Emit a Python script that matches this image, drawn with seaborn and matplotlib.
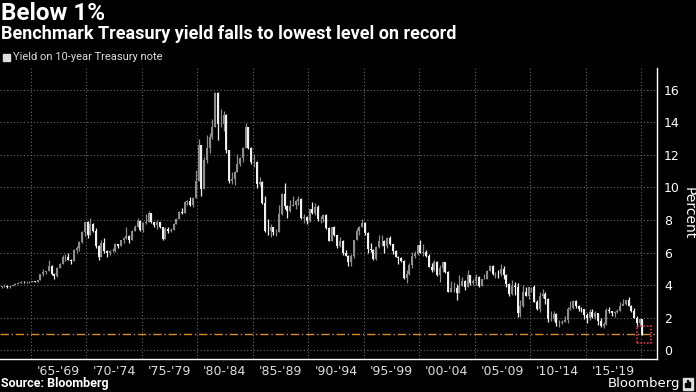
import numpy as np
import pandas as pd
import matplotlib
matplotlib.use("Agg")
import matplotlib.pyplot as plt
import seaborn as sns
from matplotlib.patches import Rectangle

# quarterly 10-year Treasury yield, 1962Q1 .. 2020Q1
first_open = 4.06
close_q = [
    3.87, 3.94, 3.95, 3.85,  # 1962
    3.94, 4.00, 4.08, 4.14,
    4.20, 4.16, 4.20, 4.20,
    4.22, 4.20, 4.30, 4.65,
    4.80, 4.86, 5.15, 4.65,
    4.55, 5.05, 5.30, 5.75,
    5.75, 5.55, 5.45, 6.15,
    6.25, 6.65, 7.25, 7.85,
    7.05, 7.75, 7.35, 6.40,  # 1970
    5.70, 6.60, 6.10, 5.95,
    6.10, 6.10, 6.50, 6.40,
    6.75, 6.90, 7.00, 6.80,
    7.35, 7.60, 7.95, 7.40,
    7.80, 7.90, 8.45, 7.85,
    7.70, 7.85, 7.55, 6.85,
    7.45, 7.30, 7.40, 7.75,
    8.05, 8.50, 8.45, 9.10,
    9.15, 8.90, 9.35, 10.40,
    12.60, 9.90, 11.70, 12.45,  # 1980
    13.10, 13.75, 15.80, 13.90,
    13.90, 14.45, 12.30, 10.40,
    10.55, 10.95, 11.45, 11.80,
    12.45, 13.70, 12.40, 11.55,
    11.55, 10.20, 10.35, 9.05,
    7.35, 7.30, 7.60, 7.25,
    7.25, 8.40, 9.60, 8.85,
    8.55, 8.85, 8.95, 9.15,
    9.30, 8.10, 8.20, 7.95,
    8.65, 8.45, 8.80, 8.05,  # 1990
    8.05, 8.30, 7.50, 6.70,
    7.55, 7.10, 6.40, 6.70,
    6.00, 5.80, 5.40, 5.80,
    6.75, 7.30, 7.60, 7.80,
    7.20, 6.20, 6.15, 5.60,
    6.35, 6.70, 6.70, 6.40,
    6.90, 6.50, 6.10, 5.75,
    5.65, 5.45, 4.45, 4.65,
    5.25, 5.80, 5.90, 6.45,
    6.00, 6.05, 5.80, 5.10,  # 2000
    4.90, 5.40, 4.60, 5.05,
    5.40, 4.80, 3.60, 3.80,
    3.80, 3.50, 3.95, 4.25,
    3.85, 4.60, 4.15, 4.25,
    4.50, 3.95, 4.35, 4.40,
    4.85, 5.15, 4.65, 4.70,
    4.65, 5.00, 4.60, 4.05,
    3.45, 3.95, 3.85, 2.25,
    2.70, 3.55, 3.30, 3.85,
    3.85, 2.95, 2.50, 3.30,  # 2010
    3.45, 3.15, 1.90, 1.90,
    2.20, 1.65, 1.65, 1.75,
    1.85, 2.50, 2.60, 3.00,
    2.70, 2.55, 2.50, 2.15,
    1.95, 2.35, 2.05, 2.30,
    1.78, 1.47, 1.60, 2.45,
    2.40, 2.30, 2.33, 2.40,
    2.74, 2.86, 3.06, 2.69,
    2.41, 2.00, 1.67, 1.92,
    0.93,  # 2020
]
high_q = [
    4.11, 3.95, 4.05, 3.98,
    3.95, 4.01, 4.10, 4.16,
    4.24, 4.24, 4.22, 4.23,
    4.24, 4.24, 4.32, 4.66,
    4.98, 4.88, 5.52, 5.25,
    4.75, 5.10, 5.35, 5.85,
    5.90, 5.95, 5.60, 6.20,
    6.40, 6.70, 7.30, 7.90,
    7.95, 8.10, 7.80, 7.50,
    6.45, 6.75, 6.90, 6.15,
    6.15, 6.30, 6.60, 6.55,
    6.80, 6.95, 7.55, 7.05,
    7.40, 7.70, 8.15, 8.00,
    7.85, 8.35, 8.55, 8.45,
    7.90, 8.00, 7.90, 7.55,
    7.55, 7.55, 7.50, 7.80,
    8.10, 8.55, 8.75, 9.15,
    9.25, 9.40, 9.40, 11.05,
    13.00, 12.60, 11.90, 13.25,
    13.35, 14.20, 15.85, 15.85,
    14.80, 14.70, 14.50, 12.30,
    10.95, 11.00, 12.05, 11.90,
    12.50, 13.95, 13.75, 12.50,
    12.05, 11.60, 10.65, 10.40,
    9.45, 8.05, 7.75, 7.60,
    7.45, 8.90, 9.65, 10.25,
    8.95, 9.25, 9.45, 9.20,
    9.50, 9.35, 8.40, 8.25,
    8.70, 9.10, 9.05, 8.95,
    8.25, 8.35, 8.40, 7.60,
    7.60, 7.65, 7.10, 6.95,
    6.75, 6.15, 5.85, 5.90,
    6.80, 7.50, 7.65, 8.05,
    7.90, 7.25, 6.60, 6.20,
    6.40, 7.05, 7.05, 6.75,
    6.95, 7.00, 6.55, 6.15,
    5.80, 5.75, 5.55, 4.95,
    5.35, 6.05, 6.10, 6.45,
    6.80, 6.55, 6.15, 5.90,
    5.35, 5.55, 5.50, 5.25,
    5.45, 5.40, 4.85, 4.25,
    4.20, 4.05, 4.60, 4.50,
    4.30, 4.90, 4.60, 4.40,
    4.65, 4.55, 4.40, 4.65,
    4.90, 5.25, 5.25, 4.80,
    4.90, 5.30, 5.20, 4.70,
    4.10, 4.30, 4.20, 4.10,
    3.05, 4.00, 3.90, 3.85,
    3.90, 4.00, 3.05, 3.55,
    3.75, 3.60, 3.20, 2.40,
    2.40, 2.30, 1.85, 1.85,
    2.10, 2.65, 3.00, 3.05,
    3.05, 2.80, 2.65, 2.45,
    2.25, 2.50, 2.50, 2.40,
    2.30, 1.95, 1.75, 2.60,
    2.62, 2.40, 2.40, 2.50,
    2.95, 3.11, 3.10, 3.25,
    2.80, 2.60, 2.10, 1.97,
    1.93,
]
low_q = [
    3.85, 3.79, 3.90, 3.83,
    3.80, 3.91, 3.98, 4.07,
    4.13, 4.14, 4.15, 4.14,
    4.17, 4.17, 4.19, 4.30,
    4.58, 4.68, 4.86, 4.62,
    4.40, 4.50, 5.05, 5.28,
    5.45, 5.55, 5.30, 5.45,
    5.95, 6.10, 6.60, 7.00,
    6.90, 7.05, 7.25, 6.30,
    5.55, 5.70, 6.00, 5.70,
    5.85, 6.05, 6.05, 6.25,
    6.40, 6.60, 6.85, 6.60,
    6.75, 7.30, 7.55, 7.35,
    7.25, 7.75, 7.90, 7.80,
    7.60, 7.45, 7.50, 6.80,
    6.85, 7.20, 7.25, 7.40,
    7.75, 8.05, 8.35, 8.45,
    8.95, 8.85, 8.80, 9.35,
    10.40, 9.50, 9.90, 11.50,
    12.10, 13.00, 13.70, 12.90,
    13.75, 13.50, 12.10, 10.25,
    10.20, 10.15, 10.95, 11.30,
    11.55, 12.40, 12.35, 11.45,
    11.25, 9.95, 10.10, 9.00,
    7.25, 7.10, 6.95, 7.05,
    7.00, 7.25, 8.30, 8.70,
    8.15, 8.50, 8.85, 8.70,
    8.95, 8.05, 7.80, 7.75,
    7.90, 8.40, 8.30, 7.95,
    7.80, 7.90, 7.45, 6.70,
    6.70, 7.00, 6.30, 6.35,
    5.85, 5.80, 5.20, 5.20,
    5.65, 6.75, 7.05, 7.55,
    7.10, 5.95, 6.05, 5.55,
    5.55, 6.30, 6.40, 6.00,
    6.30, 6.45, 5.90, 5.70,
    5.30, 5.40, 4.40, 4.15,
    4.60, 5.05, 5.65, 5.85,
    5.95, 5.80, 5.70, 5.10,
    4.80, 4.85, 4.55, 4.20,
    4.80, 4.75, 3.60, 3.55,
    3.60, 3.10, 3.50, 3.95,
    3.70, 3.85, 4.00, 4.00,
    4.00, 3.90, 3.95, 4.35,
    4.35, 4.85, 4.60, 4.45,
    4.45, 4.55, 4.35, 3.85,
    3.30, 3.40, 3.40, 2.05,
    2.05, 2.65, 3.30, 3.15,
    3.55, 2.95, 2.45, 2.35,
    3.20, 2.85, 1.70, 1.80,
    1.80, 1.45, 1.40, 1.60,
    1.70, 1.65, 2.45, 2.50,
    2.60, 2.40, 2.35, 1.90,
    1.65, 1.85, 2.00, 1.90,
    1.55, 1.40, 1.35, 1.55,
    2.30, 2.10, 2.05, 2.30,
    2.40, 2.75, 2.80, 2.68,
    2.37, 1.98, 1.43, 1.50,
    0.91,
]

period_starts = [1965, 1970, 1975, 1980, 1985, 1990, 1995, 2000, 2005, 2010, 2015, 2020]
period_labels = ["'65-'69", "'70-'74", "'75-'79", "'80-'84", "'85-'89", "'90-'94",
                 "'95-'99", "'00-'04", "'05-'09", "'10-'14", "'15-'19"]
threshold = 1.0

quarters = pd.period_range("1962Q1", periods=len(close_q), freq="Q")
df = pd.DataFrame({"close": close_q, "high": high_q, "low": low_q})
df["open"] = [first_open] + close_q[:-1]
df["t"] = quarters.year + (quarters.quarter - 0.5) / 4
df["up"] = df["close"] >= df["open"]

sns.set_theme(style="dark", rc={
    "figure.facecolor": "black", "axes.facecolor": "black",
    "savefig.facecolor": "black", "text.color": "white",
    "xtick.color": "#cccccc", "ytick.color": "white",
})
plt.rcParams["font.family"] = ["DejaVu Sans"]
title_font = ["Roboto", "DejaVu Sans"]

fig = plt.figure(figsize=(6.96, 3.92), dpi=100)
ax = fig.add_axes([0.0, 1 - 359 / 392, 657 / 696, 291 / 392])

up_col, down_col = "#8c8c8c", "#f0f0f0"
colors = np.where(df["up"], up_col, down_col)
ax.vlines(df["t"], df["low"], df["high"], colors=colors, linewidth=0.9, zorder=3)
ax.bar(df["t"], (df["close"] - df["open"]).abs(), bottom=df[["open", "close"]].min(axis=1),
       width=0.18, color=colors, linewidth=0, zorder=3)

ax.axhline(threshold, color="#d98a2c", linewidth=1.0, linestyle=(0, (6, 2, 1, 2)), zorder=2)
ax.add_patch(Rectangle((2019.6, 0.43), 1.26, 1.05, fill=False, edgecolor="#e0304f",
                       linewidth=1.2, linestyle=(0, (1, 1)), zorder=4))

ax.set_xlim(1962.23, 2021.44)
ax.set_ylim(-0.55, 17.35)

ax.set_xticks(period_starts)
ax.set_xticklabels([])
ax.set_xticks([s + 2.5 for s in period_starts[:-1]], minor=True)
ax.set_xticklabels(period_labels, minor=True, fontsize=9, color="#dddddd")
ax.tick_params(axis="x", which="major", length=11.5, width=0.8, color="#aaaaaa", direction="out")
ax.tick_params(axis="x", which="minor", length=0, pad=4)

ax.yaxis.tick_right()
ax.yaxis.set_label_position("right")
ax.set_yticks(range(0, 17, 2))
ax.set_yticks(range(1, 17, 2), minor=True)
ax.tick_params(axis="y", which="major", length=3, width=0.8, color="white", labelsize=9, pad=2)
ax.tick_params(axis="y", which="minor", length=2, width=0.8, color="white")
ax.set_ylabel("Percent", rotation=270, fontsize=10, color="white", labelpad=6, va="center")

ax.grid(True, which="major", axis="both", color="#6a6a6a", linestyle=(0, (1, 2)), linewidth=0.8)
ax.set_axisbelow(True)
sns.despine(ax=ax, left=True, top=True, right=False, bottom=False)
for side in ["right", "bottom"]:
    ax.spines[side].set_color("white")
    ax.spines[side].set_linewidth(1.0)

fig.text(0.001, 1 - 14 / 392, "Below 1%", fontsize=17.5, fontweight="bold", va="center",
         color="white", family=title_font)
fig.text(0.001, 1 - 34 / 392, "Benchmark Treasury yield falls to lowest level on record",
         fontsize=13, fontweight="bold", va="center", color="white", family=title_font)
fig.patches.append(Rectangle((3 / 696, 1 - 61 / 392), 7 / 696, 7 / 392, color="#dddddd",
                             transform=fig.transFigure, figure=fig))
fig.text(13 / 696, 1 - 57.5 / 392, "Yield on 10-year Treasury note", fontsize=8,
         va="center", color="#dddddd", family=title_font)
fig.text(0.001, 1 - 383 / 392, "Source: Bloomberg", fontsize=9, fontweight="bold",
         va="center", color="white", family=title_font)
fig.text(680 / 696, 1 - 383 / 392, "Bloomberg", fontsize=9.5, va="center", ha="right", color="white")
fig.patches.append(Rectangle((683 / 696, 1 - 390 / 392), 10 / 696, 12 / 392, color="#dddddd",
                             transform=fig.transFigure, figure=fig))
for i, h in enumerate([4, 7, 5]):
    fig.patches.append(Rectangle(((685 + 2 * i) / 696, 1 - 387 / 392), 1.2 / 696, h / 392,
                                 color="black", transform=fig.transFigure, figure=fig))

fig.savefig("out.png", dpi=100, facecolor="black")
